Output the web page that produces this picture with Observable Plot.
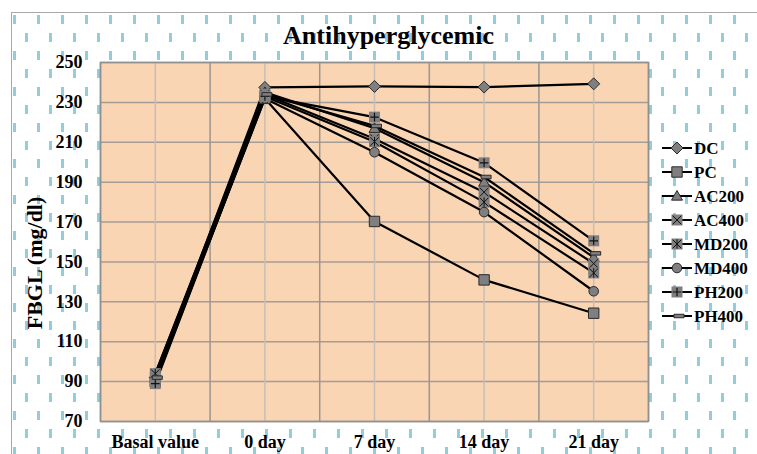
<!DOCTYPE html>
<html>
<head>
<meta charset="utf-8">
<script src="https://cdn.jsdelivr.net/npm/d3@7"></script>
<script src="https://cdn.jsdelivr.net/npm/@observablehq/plot@0.6"></script>
<style>
  html, body { margin: 0; padding: 0; background: #fff; }
  #wrap { position: relative; width: 757px; height: 454px; overflow: hidden; background: #fff;
          font-family: "Liberation Serif", "Times New Roman", serif; font-weight: bold; color: #000; }
  #bg { position: absolute; left: 11px; top: 12px; right: -5px; bottom: -5px; border: 1px solid #A8A8A8;
        background-image: url("data:image/svg+xml;utf8,<svg xmlns='http://www.w3.org/2000/svg' width='24' height='36'><rect x='1' y='2' width='3' height='9' fill='%2392CDDC'/><rect x='13' y='20' width='3' height='9' fill='%2392CDDC'/></svg>"); }
  #chart { position: absolute; left: 0; top: 0; }
  #title { position: absolute; left: 0; width: 777px; top: 21px; text-align: center; font-size: 26px; line-height: 30px; }
  #ylabel { position: absolute; left: 35px; top: 263px; transform: translate(-50%, -50%) rotate(-90deg);
            white-space: nowrap; font-size: 22px; }
  #legend { position: absolute; left: 0; top: 0; }
</style>
</head>
<body>
<div id="wrap">
  <div id="bg"></div>
  <div id="chart"></div>
  <div id="title">Antihyperglycemic</div>
  <div id="ylabel">FBGL (mg/dl)</div>
  <svg id="legend" width="757" height="454"></svg>
</div>
<script>
// ---- data ----
const categories = ["Basal value", "0 day", "7 day", "14 day", "21 day"];
const seriesNames = ["DC", "PC", "AC200", "AC400", "MD200", "MD400", "PH200", "PH400"];
const DC    = [92, 237.5, 238, 237.7, 239.3];
const PC    = [90, 232, 170.3, 141, 124.3];
const AC200 = [94, 235, 217, 190, 152.3];
const AC400 = [92, 234, 211.8, 185, 149.2];
const MD200 = [94, 233, 210.3, 180, 144.5];
const MD400 = [91, 232, 205, 175, 135.3];
const PH200 = [89, 233, 222.6, 199.7, 160.6];
const PH400 = [92, 234, 218.2, 192.6, 154.3];
const yTicks = [70, 90, 110, 130, 150, 170, 190, 210, 230, 250];
const seriesValues = [DC, PC, AC200, AC400, MD200, MD400, PH200, PH400];

// ---- long table ----
const rows = [];
seriesNames.forEach((s, k) => categories.forEach((c, i) => rows.push({series: s, cat: c, idx: i, value: seriesValues[k][i]})));
const catIdx = categories.map((c, i) => i);
const edgeIdx = d3.range(-0.5, categories.length, 1);

// ---- custom symbols (size -> half-extent r) ----
const R = s => Math.sqrt(s / Math.PI);
const symDiamond = {draw(c, s) { const r = R(s); c.moveTo(0, -r); c.lineTo(r, 0); c.lineTo(0, r); c.lineTo(-r, 0); c.closePath(); }};
const symSquare = {draw(c, s) { const r = R(s); c.moveTo(-r, -r); c.lineTo(r, -r); c.lineTo(r, r); c.lineTo(-r, r); c.closePath(); }};
const symTriangle = {draw(c, s) { const r = R(s); c.moveTo(0, -r); c.lineTo(r, r * 0.75); c.lineTo(-r, r * 0.75); c.closePath(); }};
const symTimes = {draw(c, s) { const r = R(s); c.moveTo(-r, -r); c.lineTo(r, r); c.moveTo(-r, r); c.lineTo(r, -r); }};
const symAsterisk = {draw(c, s) { const r = R(s); c.moveTo(-r, -r); c.lineTo(r, r); c.moveTo(-r, r); c.lineTo(r, -r); c.moveTo(0, -r * 1.1); c.lineTo(0, r * 1.1); }};
const symPlus = {draw(c, s) { const r = R(s); c.moveTo(-r, 0); c.lineTo(r, 0); c.moveTo(0, -r); c.lineTo(0, r); }};
const symDash = {draw(c, s) { const r = R(s); c.moveTo(-r * 0.6, -r * 0.35); c.lineTo(r * 1.4, -r * 0.35); c.lineTo(r * 1.4, r * 0.35); c.lineTo(-r * 0.6, r * 0.35); c.closePath(); }};

const GRAY = "#7F7F7F", DARK = "#2A2A2A";
// marker layers per series: [symbol, r, fill, stroke, strokeWidth]
const markerSpec = {
  DC:    [[symDiamond, 6, GRAY, DARK, 1]],
  PC:    [[symSquare, 5.2, GRAY, DARK, 1]],
  AC200: [[symTriangle, 5.5, GRAY, DARK, 1]],
  AC400: [[symSquare, 5.5, GRAY, "none", 0], [symTimes, 4.3, "none", "#111", 1]],
  MD200: [[symSquare, 5.5, GRAY, "none", 0], [symAsterisk, 4.3, "none", "#111", 1]],
  MD400: [[d3.symbolCircle, 4.8, GRAY, DARK, 1]],
  PH200: [[symSquare, 5.5, GRAY, "none", 0], [symPlus, 4.3, "none", "#111", 1.2]],
  PH400: [[symDash, 5, GRAY, DARK, 1]]
};

const seriesMarks = [];
seriesNames.forEach(s => {
  const d = rows.filter(r => r.series === s);
  seriesMarks.push(Plot.line(d, {x: "idx", y: "value", stroke: "#000", strokeWidth: 2.2}));
});
seriesNames.forEach(s => {
  const d = rows.filter(r => r.series === s);
  markerSpec[s].forEach(([sym, r, fill, stroke, sw]) =>
    seriesMarks.push(Plot.dot(d, {x: "idx", y: "value", symbol: sym, r, fill, stroke, strokeWidth: sw})));
});

const chart = Plot.plot({
  width: 757, height: 454,
  marginLeft: 100, marginRight: 109, marginTop: 62, marginBottom: 33,
  style: {background: "transparent", fontFamily: "'Liberation Serif', 'Times New Roman', serif", fontSize: "18px", fontWeight: "bold", color: "#000", overflow: "visible"},
  x: {domain: [-0.5, categories.length - 0.5], axis: null, label: null},
  y: {domain: [70, 250], axis: null, label: null},
  marks: [
    Plot.frame({fill: "#FAD5B4"}),
    Plot.ruleY(yTicks, {stroke: "#A49C96", strokeWidth: 1.5}),
    Plot.ruleX(edgeIdx, {stroke: "#9C968F", strokeWidth: 1.5}),
    Plot.ruleX(catIdx, {stroke: "#C6BEB6", strokeWidth: 1.5}),
    Plot.frame({stroke: "#8F8F8F", strokeWidth: 1.5}),
    Plot.axisY({ticks: yTicks, tickSize: 0, tickPadding: 18, tickFormat: d => d, fill: "#000", label: null}),
    Plot.axisX({ticks: catIdx, tickSize: 0, tickPadding: 14, tickFormat: i => categories[i], fill: "#000", label: null}),
    ...seriesMarks
  ]
});
document.getElementById("chart").appendChild(chart);

// ---- legend ----
const leg = d3.select("#legend");
const legTop = 148, legStep = 24;
seriesNames.forEach((s, k) => {
  const y = legTop + k * legStep;
  const g = leg.append("g").attr("transform", `translate(0,${y})`);
  g.append("line").attr("x1", 662).attr("x2", 692).attr("y1", 0).attr("y2", 0).attr("stroke", "#000").attr("stroke-width", 2);
  markerSpec[s].forEach(([sym, r, fill, stroke, sw]) => {
    g.append("path").attr("transform", "translate(677,0)")
      .attr("d", d3.symbol(sym, r * r * Math.PI)())
      .attr("fill", fill).attr("stroke", stroke).attr("stroke-width", sw);
  });
  g.append("text").attr("x", 694).attr("y", 6).text(s)
    .attr("font-family", "'Liberation Serif', 'Times New Roman', serif").attr("font-weight", "bold").attr("font-size", 17).attr("fill", "#000");
});
</script>
</body>
</html>
